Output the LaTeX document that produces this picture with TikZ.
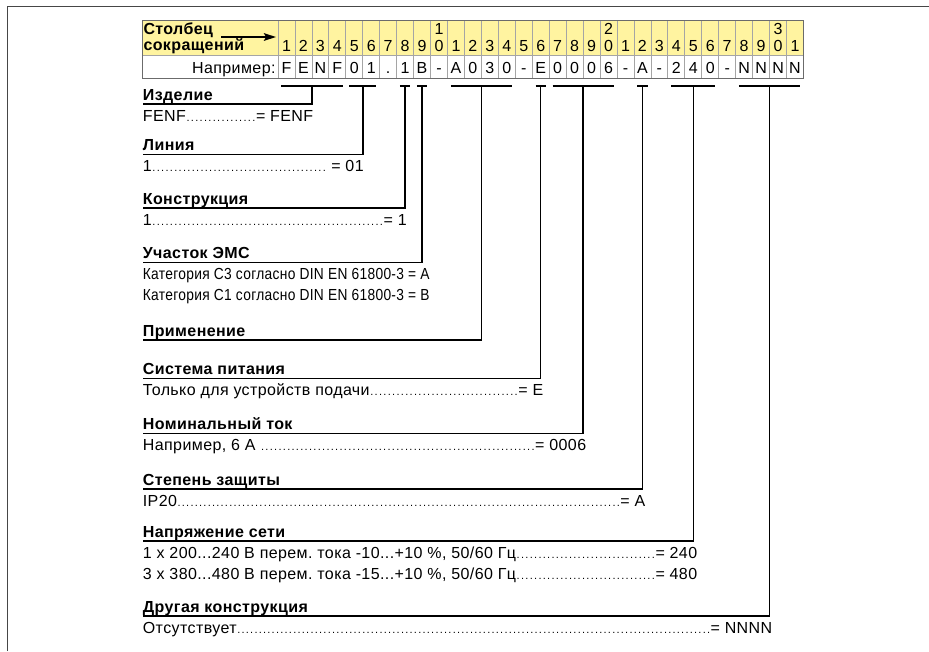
\documentclass[tikz,border=0pt]{standalone}
\usepackage{fontspec}
\setmainfont{Liberation Sans}[LetterSpace=2.5]
\newfontfamily\condfont{Liberation Sans}[FakeStretch=0.86,LetterSpace=2]
\usetikzlibrary{arrows.meta}
\definecolor{hdryellow}{RGB}{255,244,160}
\definecolor{framegray}{RGB}{70,70,70}
\definecolor{cellgray}{RGB}{165,165,165}
\frenchspacing
\newcommand\dfill{\xleaders\hbox to 4.3pt{\hss\fontsize{11}{11}\selectfont.\hss}\hfill}
\tikzset{
  heading/.style={anchor=base west, inner sep=0pt, font=\fontsize{16}{18}\selectfont\bfseries},
  value/.style={anchor=base west, inner sep=0pt, font=\fontsize{16}{18}\selectfont},
  condvalue/.style={anchor=base west, inner sep=0pt, font=\condfont\fontsize{16}{18}\selectfont},
  digit/.style={anchor=base, inner sep=0pt, font=\fontsize{16}{18}\selectfont},
  hdrlabel/.style={anchor=base west, inner sep=0pt, font=\fontsize{16}{18}\selectfont\bfseries},
  conn/.style={line width=1.5pt, black},
  framestyle/.style={line width=1.3pt, framegray},
  cellline/.style={line width=0.8pt, cellgray}
}
\begin{document}
\begin{tikzpicture}[x=1pt,y=-1pt]
\useasboundingbox (0,0) rectangle (929,651);
% frame
\draw[framestyle] (7.3,651) -- (7.3,6.7) -- (929,6.7);
% table
\fill[hdryellow] (142.7,20.7) rectangle (803.3,55);
\fill[white] (142.7,55) rectangle (803.3,78.3);
\foreach \k in {0,...,30} {
  \draw[cellline] ({278+\k*16.95},20.7) -- ({278+\k*16.95},78.3);
}
\draw[cellline] (142.7,55) -- (803.3,55);
\draw[line width=0.9pt, framegray!80] (142.7,20.7) rectangle (803.3,78.3);
% header label
\node[hdrlabel] (lblA) at (143.3,34) {Столбец};
\node[hdrlabel] (lblB) at (143.3,50.7) {сокращений};
\coordinate (arrS) at (221,37);
\coordinate (arrE) at (276,37);
\draw[line width=2pt, -{Stealth[length=12pt,width=7.5pt,inset=2pt]}] (arrS) -- (arrE);
% digits
\foreach \d [count=\i] in {1,2,3,4,5,6,7,8,9,0,1,2,3,4,5,6,7,8,9,0,1,2,3,4,5,6,7,8,9,0,1} {
  \node[digit] (d\i) at ({278+(\i-0.5)*16.95},51.5) {\d};
}
\node[digit] (t1) at ({278+9.5*16.95},34.5) {1};
\node[digit] (t2) at ({278+19.5*16.95},34.5) {2};
\node[digit] (t3) at ({278+29.5*16.95},34.5) {3};
% example row
\node[digit, anchor=base east] (ex) at (275.7,73.3) {Например:};
\foreach \c [count=\i] in {F,E,N,F,0,1,.,1,B,-,A,0,3,0,-,E,0,0,0,6,-,A,-,2,4,0,-,N,N,N,N} {
  \node[digit] (l\i) at ({278+(\i-0.5)*16.95},73.3) {\c};
}
% headings
\foreach \t/\y/\i in {Изделие/104/1, Линия/154.5/2, Конструкция/208/3, Участок ЭМС/262.5/4,
  Применение/340/5, Система питания/378.5/6, Номинальный ток/433.3/7, Степень защиты/489/8,
  Напряжение сети/541/9, Другая конструкция/616/10} {
  \node[heading] (h\i) at (142.7,{\y-4}) {\t};
  \coordinate (u\i) at (142.7,\y);
}
% brackets
\foreach \a/\b/\y/\i in {1/4/104/1, 5/6/154.5/2, 8/8/208/3, 9/9/262.5/4, 11/14/340/5,
  16/16/378.5/6, 17/20/433.3/7, 22/22/489/8, 24/26/541/9, 28/31/616/10} {
  \coordinate (bl\i) at ({278+(\a-1)*16.95+3.3},86);
  \coordinate (br\i) at ({278+\b*16.95-3.3},86);
  \coordinate (bc\i) at ({278+(\a+\b-1)/2*16.95},86);
  \coordinate (bk\i) at ({278+(\a+\b-1)/2*16.95},\y);
  \draw[conn] (bl\i) -- (br\i);
  \draw[conn] (bc\i) -- (bk\i) -- (u\i);
}
% values
\node[value] (v1) at (142.7,121) {\hbox to 170.3pt{FENF\dfill= FENF}};
\node[value] (v2) at (142.7,171.5) {\hbox to 220.8pt{1\dfill\ = 01}};
\node[value] (v3) at (142.7,225) {\hbox to 263.8pt{1\dfill= 1}};
\node[condvalue] (v4) at (142.7,279.5) {Категория C3 согласно DIN EN 61800-3 = A};
\node[condvalue] (v5) at (142.7,300) {Категория C1 согласно DIN EN 61800-3 = B};
\node[value] (v6) at (142.7,395.5) {\hbox to 400.3pt{Только для устройств подачи\dfill= E}};
\node[value] (v7) at (142.7,450.3) {\hbox to 443.3pt{Например, 6 А \dfill= 0006}};
\node[value] (v8) at (142.7,506) {\hbox to 502.3pt{IP20\dfill= A}};
\node[value] (v9) at (142.7,558) {\hbox to 554.3pt{1 x 200...240 В перем. тока -10...+10 \%, 50/60 Гц\dfill= 240}};
\node[value] (v10) at (142.7,579) {\hbox to 554.3pt{3 x 380...480 В перем. тока -15...+10 \%, 50/60 Гц\dfill= 480}};
\node[value] (v11) at (142.7,633) {\hbox to 629.3pt{Отсутствует\dfill= NNNN}};
\end{tikzpicture}
\end{document}
